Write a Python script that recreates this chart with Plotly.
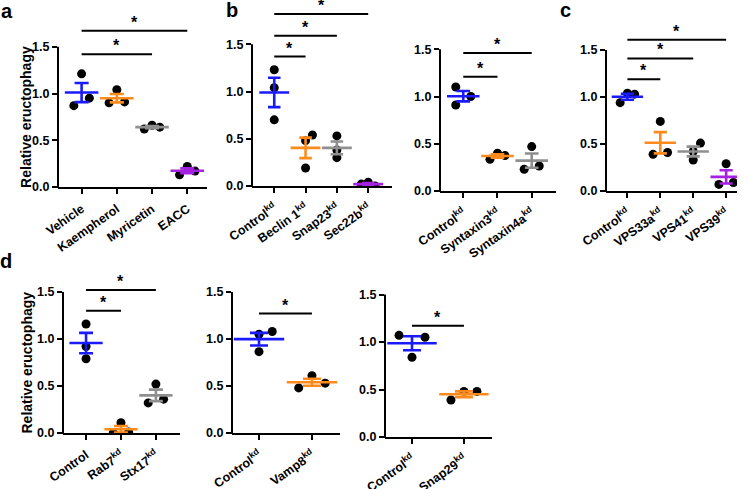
import plotly.graph_objects as go
import numpy as np

W, H = 749, 489

# ---------------- data ----------------
a_cats = ["Vehicle", "Kaempherol", "Myricetin", "EACC"]
a_vals = [[1.21, 0.87, 0.95], [1.04, 0.90, 0.91], [0.62, 0.66, 0.64], [0.13, 0.22, 0.17]]

b1_cats = ["Control<sup>kd</sup>", "Beclin 1<sup>kd</sup>", "Snap23<sup>kd</sup>", "Sec22b<sup>kd</sup>"]
b1_vals = [[1.23, 1.04, 0.70], [0.54, 0.48, 0.19], [0.53, 0.30, 0.38], [0.02, 0.04, 0.00]]

b2_cats = ["Control<sup>kd</sup>", "Syntaxin3<sup>kd</sup>", "Syntaxin4a<sup>kd</sup>"]
b2_vals = [[1.10, 0.91, 1.00], [0.335, 0.40, 0.375], [0.47, 0.23, 0.265]]

c_cats = ["Control<sup>kd</sup>", "VPS33a<sup>kd</sup>", "VPS41<sup>kd</sup>", "VPS39<sup>kd</sup>"]
c_vals = [[0.94, 1.04, 1.03], [0.74, 0.39, 0.41], [0.51, 0.33, 0.42], [0.29, 0.07, 0.09]]

d1_cats = ["Control", "Rab7<sup>kd</sup>", "Stx17<sup>kd</sup>"]
d1_vals = [[1.16, 0.92, 0.79], [0.11, 0.00, 0.01], [0.52, 0.32, 0.36]]

d2_cats = ["Control<sup>kd</sup>", "Vamp8<sup>kd</sup>"]
d2_vals = [[1.05, 1.08, 0.865], [0.61, 0.48, 0.53]]

d3_cats = ["Control<sup>kd</sup>", "Snap29<sup>kd</sup>"]
d3_vals = [[1.07, 1.05, 0.84], [0.39, 0.48, 0.48]]

y_ticks = [0, 0.5, 1.0, 1.5]
y_ticktext = ["0.0", "0.5", "1.0", "1.5"]
y_title = "Relative eructophagy"

BLUE, ORANGE, GRAY, PURPLE = "#1a1aff", "#ff8a1c", "#8f8f8f", "#a522e0"
FONT = "Liberation Sans"

# ---------------- panel layout (style / placement) ----------------
panels = [
    dict(cats=a_cats, vals=a_vals, xl=58, xr=207, y0=187, sc=93.5, ytop=1.8, off=(0.67, 0.56),
         sig=[(0, 3, 1.67), (0, 2, 1.42)], col=[BLUE, ORANGE, GRAY, PURPLE],
         jit=[[0, -1, 1], [0, -1, 1], [-1, 0, 1], [-1, 0, 1]], title=True),
    dict(cats=b1_cats, vals=b1_vals, xl=252, xr=392, y0=186, sc=94.5, ytop=1.9, off=(0.71, 0.76),
         sig=[(0, 3, 1.82), (0, 2, 1.59), (0, 1, 1.37)], col=[BLUE, ORANGE, GRAY, PURPLE],
         jit=[[0, 0, 0], [1, 0, 0], [0, 0, 0], [-1, 0, 1]], title=False),
    dict(cats=b2_cats, vals=b2_vals, xl=440, xr=556, y0=191, sc=94.5, ytop=1.6, off=(0.68, 0.71),
         sig=[(0, 2, 1.46), (0, 1, 1.21)], col=[BLUE, ORANGE, GRAY],
         jit=[[-1, -1, 1], [-1, 0, 1], [0, -1, 1]], title=False),
    dict(cats=c_cats, vals=c_vals, xl=606, xr=737, y0=191, sc=94, ytop=1.7, off=(0.65, 0.33),
         sig=[(0, 3, 1.61), (0, 2, 1.41), (0, 1, 1.19)], col=[BLUE, ORANGE, GRAY, PURPLE],
         jit=[[-1, 0, 1], [0, -1, 1], [1, 0, 0], [0, -1, 1]], title=False),
    dict(cats=d1_cats, vals=d1_vals, xl=63, xr=180, y0=433, sc=94, ytop=1.6, off=(0.66, 0.69),
         sig=[(0, 2, 1.52), (0, 1, 1.30)], col=[BLUE, ORANGE, GRAY],
         jit=[[0, 0, 0], [0, -1, 1], [0, -1, 1]], title=True),
    dict(cats=d2_cats, vals=d2_vals, xl=232, xr=340, y0=433, sc=94, ytop=1.6, off=(0.51, 0.53),
         sig=[(0, 1, 1.27)], col=[BLUE, ORANGE],
         jit=[[0, 1, 0], [0, -1, 1]], title=False),
    dict(cats=d3_cats, vals=d3_vals, xl=385, xr=492, y0=437, sc=95, ytop=1.6, off=(0.52, 0.54),
         sig=[(0, 1, 1.17)], col=[BLUE, ORANGE],
         jit=[[-1, 1, 0], [-1, 0, 1]], title=False),
]

fig = go.Figure()
shapes, annotations = [], []
layout = {}

for k, p in enumerate(panels, start=1):
    xa = "x" if k == 1 else f"x{k}"
    ya = "y" if k == 1 else f"y{k}"
    n = len(p["cats"])
    xr0, xr1 = -p["off"][0], n - 1 + p["off"][1]
    span_px = p["xr"] - p["xl"]
    sp = span_px / (xr1 - xr0)          # px per category
    jit_amt = 0.22 if sp < 45 else 0.25
    ydom = [1 - p["y0"] / H, 1 - (p["y0"] - p["ytop"] * p["sc"]) / H]
    xdom = [p["xl"] / W, p["xr"] / W]

    # dots
    for i, (vals, jit) in enumerate(zip(p["vals"], p["jit"])):
        fig.add_trace(go.Scatter(
            x=[i + j * jit_amt for j in jit], y=vals, mode="markers",
            marker=dict(color="black", size=9, line=dict(width=0)),
            xaxis=xa, yaxis=ya, showlegend=False, hoverinfo="skip"))
    # mean +/- SEM
    for i, vals in enumerate(p["vals"]):
        v = np.array(vals)
        m = float(v.mean())
        sem = float(v.std(ddof=1) / np.sqrt(len(v)))
        fig.add_trace(go.Scatter(
            x=[i], y=[m], mode="markers",
            marker=dict(symbol="line-ew", size=0.68 * sp,
                        line=dict(color=p["col"][i], width=2.6)),
            error_y=dict(type="data", array=[sem], color=p["col"][i],
                         thickness=2.6, width=min(0.2 * sp, 9)),
            xaxis=xa, yaxis=ya, showlegend=False, hoverinfo="skip"))

    layout["xaxis" if k == 1 else f"xaxis{k}"] = dict(
        domain=xdom, range=[xr0, xr1], anchor=ya, automargin=False,
        tickvals=list(range(n)), ticktext=p["cats"], tickangle=-35,
        ticks="outside", ticklen=5, tickwidth=2, tickcolor="black",
        ticklabelstandoff=3,
        showline=True, linewidth=2, linecolor="black",
        showgrid=False, zeroline=False,
        tickfont=dict(family=FONT, size=12.5, color="black", weight="bold"))
    layout["yaxis" if k == 1 else f"yaxis{k}"] = dict(
        domain=ydom, range=[0, p["ytop"]], anchor=xa, automargin=False,
        tickvals=y_ticks, ticktext=y_ticktext,
        ticks="outside", ticklen=5, tickwidth=2, tickcolor="black",
        showline=False, showgrid=False, zeroline=False,
        tickfont=dict(family=FONT, size=12.5, color="black", weight="bold"))

    # y axis line from 0 to 1.5 (paper coords derived from domain)
    y_top_paper = ydom[0] + (1.5 / p["ytop"]) * (ydom[1] - ydom[0])
    shapes.append(dict(type="line", xref="paper", yref="paper",
                       x0=xdom[0], x1=xdom[0], y0=ydom[0] - 1 / H, y1=y_top_paper,
                       line=dict(color="black", width=2)))

    # significance bars
    for (i0, i1, yb) in p["sig"]:
        shapes.append(dict(type="line", xref=xa, yref=ya, x0=i0, x1=i1, y0=yb, y1=yb,
                           line=dict(color="black", width=2)))
        annotations.append(dict(x=(i0 + i1) / 2, y=yb, xref=xa, yref=ya, text="*",
                                showarrow=False, yanchor="middle", height=12, yshift=9,
                                font=dict(family=FONT, size=16, color="black", weight="bold")))
    if p["title"]:
        annotations.append(dict(x=26 / W, y=0.75, xref="paper", yref=ya, text=y_title,
                                textangle=-90, showarrow=False, xanchor="center", yanchor="middle",
                                font=dict(family=FONT, size=14, color="black", weight="bold")))

# panel letters
for letter, px, py in [("a", 7, 11), ("b", 232, 10.5), ("c", 565, 10.5), ("d", 6, 261)]:
    annotations.append(dict(x=px / W, y=1 - py / H, xref="paper", yref="paper", text=letter,
                            showarrow=False, xanchor="center", yanchor="middle",
                            font=dict(family=FONT, size=20, color="black", weight="bold")))

fig.update_layout(template="none", width=W, height=H, margin=dict(l=0, r=0, t=0, b=0, autoexpand=False),
                  paper_bgcolor="white", plot_bgcolor="white",
                  shapes=shapes, annotations=annotations, **layout)
fig.write_html("out.html", config={"displayModeBar": False},
               post_script="document.body.style.margin='0';document.body.style.overflow='hidden';")
